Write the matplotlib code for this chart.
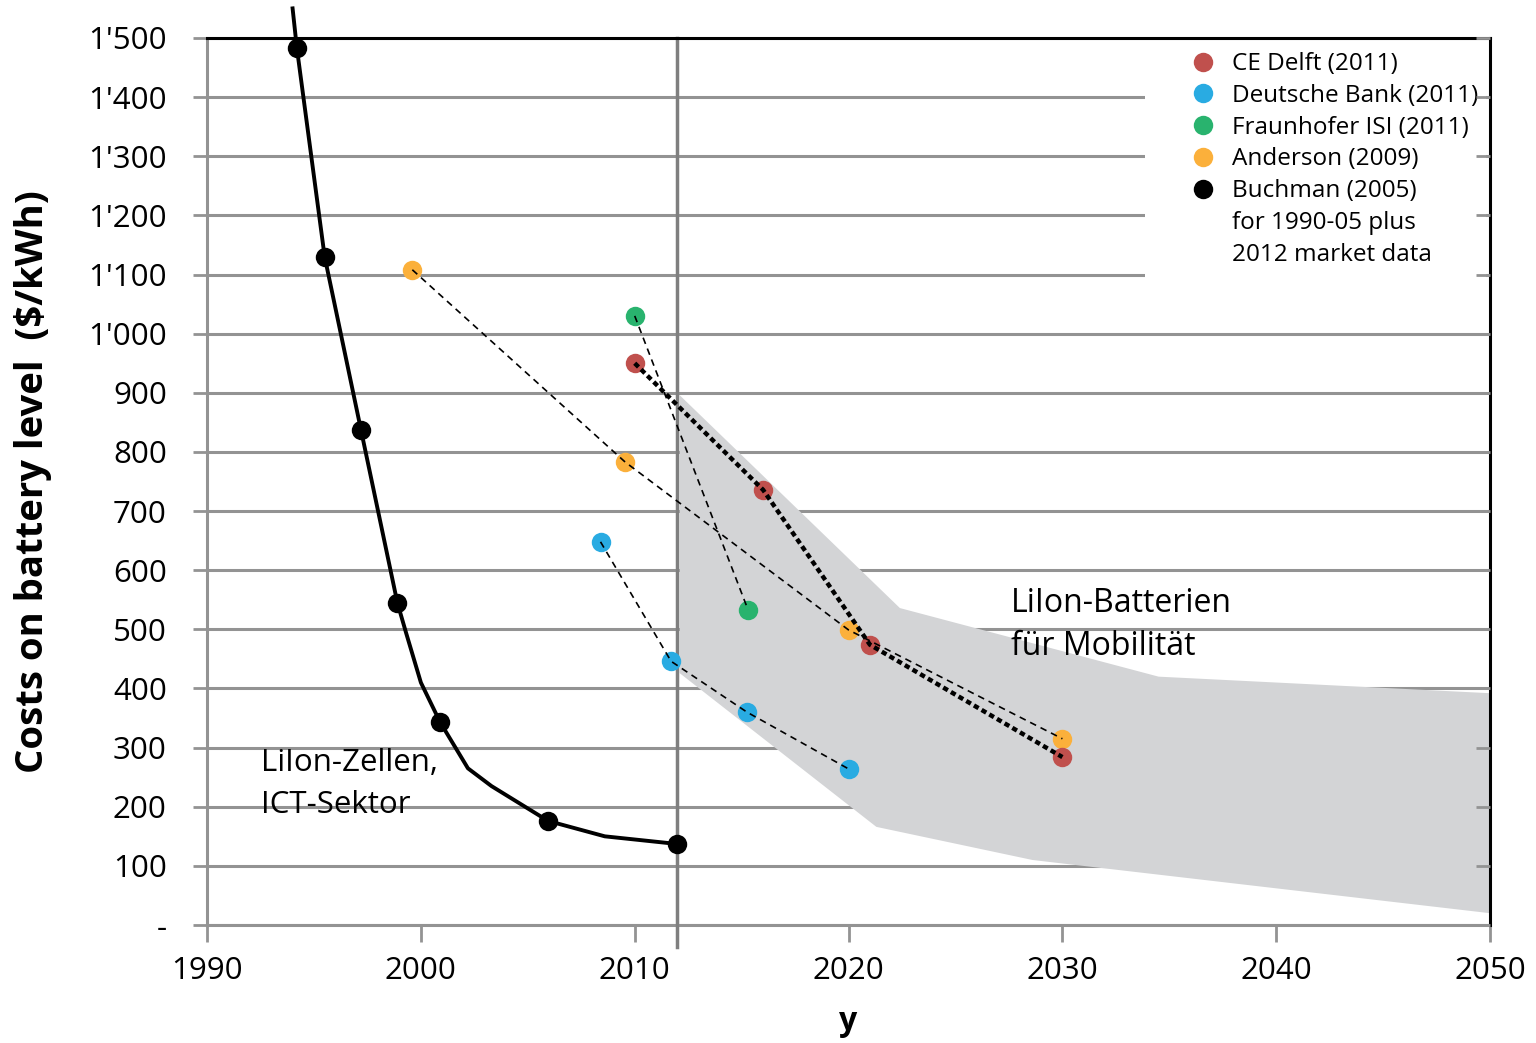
import matplotlib

matplotlib.use("Agg")
import matplotlib.pyplot as plt
from matplotlib.lines import Line2D
from matplotlib.patches import Rectangle
from matplotlib.ticker import FuncFormatter

plt.rcParams["font.family"] = ["Open Sans", "DejaVu Sans"]

# Buchman (2005) + 2012 market data: markers and the drawn curve vertices
buch_years = [1994.2, 1995.5, 1997.2, 1998.9, 2000.9, 2005.95, 2012.0]
buch_costs = [1483, 1130, 837, 545, 343, 176, 137]
curve_years = [1994.0, 1994.2, 1995.5, 1997.2, 1998.9, 1999.3, 2000.0, 2000.9,
               2002.2, 2003.3, 2005.95, 2008.6, 2012.0]
curve_costs = [1550, 1483, 1130, 837, 545, 495, 410, 343, 265, 235, 176, 150, 137]

ce_years = [2010.0, 2016.0, 2021.0, 2030.0]
ce_costs = [950, 736, 474, 284]

db_years = [2008.4, 2011.7, 2015.25, 2020.0]
db_costs = [648, 446, 360, 264]

fh_years = [2010.0, 2015.3]
fh_costs = [1030, 533]

and_years = [1999.6, 2009.55, 2020.0, 2030.0]
and_costs = [1108, 783, 499, 315]

# Range band for LiIon mobility batteries
band_upper_years = [2012.1, 2022.4, 2034.5, 2050.0]
band_upper_costs = [896, 536, 420, 392]
band_lower_years = [2012.1, 2021.3, 2028.6, 2050.0]
band_lower_costs = [426, 166, 110, 20]

y_ticks = list(range(0, 1501, 100))
x_ticks = list(range(1990, 2051, 10))

legend_labels = ["CE Delft (2011)", "Deutsche Bank (2011)", "Fraunhofer ISI (2011)",
                 "Anderson (2009)", "Buchman (2005)", "for 1990-05 plus",
                 "2012 market data"]

RED = "#c0504d"
BLUE = "#29abe2"
GREEN = "#29b36e"
ORANGE = "#fbb03b"
GRID = "#939393"


def fmt_cost(v, _pos):
    v = int(round(v))
    if v == 0:
        return "-"
    if v >= 1000:
        return f"{v // 1000}'{v % 1000:03d}"
    return str(v)


fig = plt.figure(figsize=(15.36, 10.43), dpi=100)
ax = fig.add_axes([0.1348, 0.1131, 0.8353, 0.8505])

ax.set_xlim(1990, 2050)
ax.set_ylim(0, 1500)

band_x = band_upper_years + band_lower_years[::-1]
band_y = band_upper_costs + band_lower_costs[::-1]
ax.fill(band_x, band_y, color="#d3d4d6", lw=0, zorder=1)

ax.set_yticks(y_ticks)
ax.set_xticks(x_ticks)
ax.yaxis.set_major_formatter(FuncFormatter(fmt_cost))
ax.grid(axis="y", color=GRID, lw=2.2, zorder=2)
ax.set_axisbelow(True)

ax.axvline(2012, ymin=-0.025, ymax=1, color="#7f7f7f", lw=2.5, clip_on=False, zorder=3)

ax.text(1992.5, 300, "LiIon-Zellen,\nICT-Sektor", fontsize=22.5, linespacing=1.55,
        va="top", ha="left", zorder=1.5)
ax.text(2027.6, 572, "LiIon-Batterien\nfür Mobilität", fontsize=23, linespacing=1.42,
        va="top", ha="left", zorder=1.5)

dash = dict(color="black", lw=1.2, ls=(0, (4, 3)), zorder=4)
ax.plot(and_years, and_costs, **dash)
ax.plot(fh_years, fh_costs, **dash)
ax.plot(db_years, db_costs, **dash)
ax.plot(ce_years, ce_costs, color="black", lw=3.2, ls=(0, (1.2, 0.8)), zorder=4)

ax.plot(curve_years, curve_costs, color="black", lw=2.8, clip_on=False, zorder=5)

ms = 14
for xs, ys, c in [(and_years, and_costs, ORANGE), (fh_years, fh_costs, GREEN),
                  (db_years, db_costs, BLUE), (ce_years, ce_costs, RED)]:
    ax.plot(xs, ys, "o", color=c, ms=ms, mew=0, zorder=3.5)
ax.plot(buch_years, buch_costs, "o", color="black", ms=ms, mew=0, zorder=6, clip_on=False)

for side in ("left", "bottom"):
    ax.spines[side].set_color(GRID)
    ax.spines[side].set_linewidth(2.2)
for side in ("top", "right"):
    ax.spines[side].set_color("black")
    ax.spines[side].set_linewidth(2.2)
    ax.spines[side].set_zorder(8)

ax.tick_params(axis="y", which="major", length=10, width=2, color=GRID,
               labelsize=22.5, pad=19)
ax.tick_params(axis="x", which="major", length=12, width=2, color=GRID,
               labelsize=22.5, pad=10)

# inward ticks on the right spine
sec = ax.secondary_yaxis("right")
sec.set_yticks(y_ticks)
sec.tick_params(direction="in", length=10, width=2, color=GRID, labelright=False)
sec.spines["right"].set_visible(False)
sec.set_zorder(9)

ax.set_ylabel("Costs on battery level  ($/kWh)", fontsize=27.5, fontweight="bold", labelpad=26)
ax.set_xlabel("y", fontsize=23, fontweight="bold", labelpad=14)

# white box behind the legend hides the grid lines
ax.add_patch(Rectangle((0.731, 0.722), 0.266, 0.271, transform=ax.transAxes,
                       facecolor="white", edgecolor="none", zorder=2.5))

colors = [RED, BLUE, GREEN, ORANGE, "black", None, None]
handles = []
for c in colors:
    if c is None:
        handles.append(Line2D([], [], ls="none", marker="none"))
    else:
        handles.append(Line2D([], [], ls="none", marker="o", ms=ms, mew=0, color=c))
leg = ax.legend(handles, legend_labels, loc="upper left", bbox_to_anchor=(0.765, 0.984),
                fontsize=17.5, frameon=False, handletextpad=0.6, labelspacing=0.32,
                borderpad=0, handlelength=1.2, borderaxespad=0)
leg.set_zorder(7)

fig.savefig("out.png", dpi=100)
